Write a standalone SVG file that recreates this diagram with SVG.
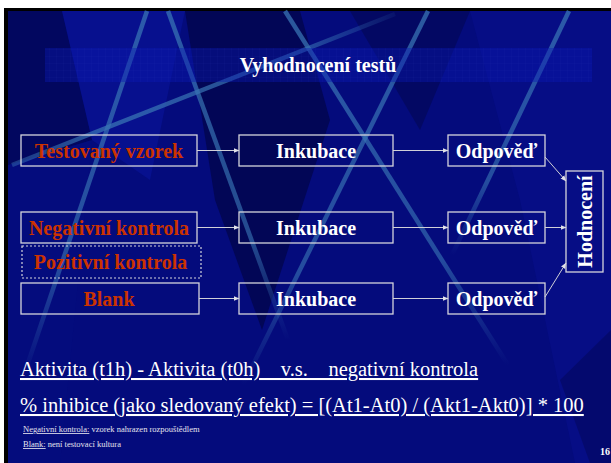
<svg xmlns="http://www.w3.org/2000/svg" width="611" height="463" viewBox="0 0 611 463">
  <defs>
    <style>
      .box { fill: none; stroke: #d4d4dc; stroke-width: 1.3; }
      .dash { fill: none; stroke: #d4d4dc; stroke-width: 1.2; stroke-dasharray: 2 2; }
      .red { font-family: "Liberation Serif", "Times New Roman", serif; font-weight: bold; font-size: 20px; fill: #cc3300; text-anchor: middle; }
      .wht { font-family: "Liberation Serif", "Times New Roman", serif; font-weight: bold; font-size: 20px; fill: #ffffff; text-anchor: middle; }
      .conn { stroke: #d0d0d8; stroke-width: 1; fill: none; marker-end: url(#head); }
      .streak { stroke-width: 4.5; fill: none; }
      .body { font-family: "Liberation Serif", "Times New Roman", serif; fill: #ffffff; }
      .note { font-family: "Liberation Serif", "Times New Roman", serif; font-size: 8.5px; fill: #e4e4ee; }
    </style>
    <marker id="head" markerUnits="userSpaceOnUse" markerWidth="6" markerHeight="6" refX="5.5" refY="3" orient="auto">
      <path d="M0,0.6 L6,3 L0,5.4 z" fill="#e0e0e8"/>
    </marker>
    <!-- light streak colour, fading toward the lower end -->
    <linearGradient id="fadeV" x1="0" y1="0" x2="0" y2="1">
      <stop offset="0" stop-color="#3874b4" stop-opacity="0.75"/>
      <stop offset="0.7" stop-color="#3874b4" stop-opacity="0.62"/>
      <stop offset="1" stop-color="#3874b4" stop-opacity="0"/>
    </linearGradient>
    <linearGradient id="fadeH" x1="0" y1="0" x2="1" y2="0">
      <stop offset="0" stop-color="#3874b4" stop-opacity="0.45"/>
      <stop offset="0.25" stop-color="#3874b4" stop-opacity="0.75"/>
      <stop offset="0.75" stop-color="#3874b4" stop-opacity="0.65"/>
      <stop offset="1" stop-color="#3874b4" stop-opacity="0.1"/>
    </linearGradient>
    <pattern id="grid" width="7" height="7" patternUnits="userSpaceOnUse">
      <path d="M0,0 H7 M0,0 V7" stroke="#3a4ac0" stroke-width="0.5" stroke-opacity="0.2" fill="none"/>
    </pattern>
  </defs>

  <!-- page and slide frame -->
  <rect x="0" y="0" width="611" height="463" fill="#ffffff"/>
  <rect x="4" y="8" width="607" height="455" fill="#000000"/>
  <rect x="8" y="11" width="603" height="452" fill="#040b7c"/>

  <!-- background facets -->
  <g id="facets">
    <polygon points="8,11 62,11 92,140 8,165" fill="#020552" opacity="0.7"/>
    <polygon points="62,11 185,11 150,180 92,140" fill="#0a16a0" opacity="0.5"/>
    <polygon points="185,11 300,11 330,120 262,330 215,200" fill="#01033e" opacity="0.6"/>
    <polygon points="350,11 470,11 420,130" fill="#02054a" opacity="0.5"/>
    <polygon points="470,11 611,11 611,463 575,463 520,200" fill="#0a14a0" opacity="0.25"/>
    <polygon points="560,380 611,330 611,463 590,463" fill="#02054a" opacity="0.4"/>
    <polygon points="8,165 92,140 60,463 8,463" fill="#06107f" opacity="0.4"/>
  </g>

  <!-- light streaks -->
  <g id="streaks">
    <line class="streak" x1="12" y1="165" x2="395" y2="14" stroke="url(#fadeH)"/>
    <line class="streak" x1="147" y1="11" x2="24" y2="375" stroke="url(#fadeV)"/>
    <line class="streak" x1="168" y1="11" x2="288" y2="340" stroke="url(#fadeV)"/>
    <line class="streak" x1="285" y1="11" x2="508" y2="365" stroke="url(#fadeV)"/>
    <line class="streak" x1="428" y1="11" x2="243" y2="385" stroke="url(#fadeV)"/>
    <line class="streak" x1="569" y1="11" x2="452" y2="255" stroke="url(#fadeV)"/>
  </g>

  <!-- title band -->
  <g id="title">
    <rect x="45" y="48" width="547" height="34" fill="#0a1ab4" opacity="0.4"/>
    <rect x="45" y="48" width="547" height="34" fill="url(#grid)"/>
    <text class="wht" x="318" y="72">Vyhodnocení testů</text>
  </g>

  <!-- connectors -->
  <g id="connectors">
    <line class="conn" x1="197" y1="150.5" x2="239" y2="150.5"/>
    <line class="conn" x1="197" y1="227.5" x2="239" y2="227.5"/>
    <line class="conn" x1="199" y1="298.5" x2="239" y2="298.5"/>
    <line class="conn" x1="393" y1="150.5" x2="448" y2="150.5"/>
    <line class="conn" x1="393" y1="227.5" x2="448" y2="227.5"/>
    <line class="conn" x1="393" y1="298.5" x2="448" y2="298.5"/>
    <line class="conn" x1="545" y1="157" x2="566" y2="181"/>
    <line class="conn" x1="545" y1="227.5" x2="566" y2="227.5"/>
    <line class="conn" x1="545" y1="297" x2="566" y2="263"/>
  </g>

  <!-- sample column -->
  <g id="testovany">
    <rect class="box" x="21" y="135" width="176" height="31"/>
    <text class="red" x="109" y="157.5">Testovaný vzorek</text>
  </g>
  <g id="negativni">
    <rect class="box" x="21" y="212" width="176" height="31"/>
    <text class="red" x="109" y="234.5">Negativní kontrola</text>
  </g>
  <g id="pozitivni">
    <rect class="dash" x="22" y="246" width="179" height="32"/>
    <text class="red" x="110.5" y="268.5">Pozitivní kontrola</text>
  </g>
  <g id="blank">
    <rect class="box" x="21" y="283" width="178" height="31"/>
    <text class="red" x="109" y="305.5">Blank</text>
  </g>

  <!-- incubation column -->
  <g id="inkubace1">
    <rect class="box" x="239" y="135" width="154" height="31"/>
    <text class="wht" x="316" y="157.5">Inkubace</text>
  </g>
  <g id="inkubace2">
    <rect class="box" x="239" y="212" width="154" height="31"/>
    <text class="wht" x="316" y="234.5">Inkubace</text>
  </g>
  <g id="inkubace3">
    <rect class="box" x="239" y="283" width="154" height="31"/>
    <text class="wht" x="316" y="305.5">Inkubace</text>
  </g>

  <!-- response column -->
  <g id="odpoved1">
    <rect class="box" x="448" y="135" width="97" height="31"/>
    <text class="wht" x="496.5" y="157.5">Odpověď</text>
  </g>
  <g id="odpoved2">
    <rect class="box" x="448" y="212" width="97" height="31"/>
    <text class="wht" x="496.5" y="234.5">Odpověď</text>
  </g>
  <g id="odpoved3">
    <rect class="box" x="448" y="283" width="97" height="31"/>
    <text class="wht" x="496.5" y="305.5">Odpověď</text>
  </g>

  <!-- evaluation -->
  <g id="hodnoceni">
    <rect class="box" x="566" y="171" width="37" height="101"/>
    <text class="wht" transform="translate(591.5,221.5) rotate(-90)" x="0" y="0">Hodnocení</text>
  </g>

  <!-- formulas and notes -->
  <g id="notes">
    <text class="body" x="20" y="376" font-size="20.5" text-decoration="underline" xml:space="preserve" style="white-space:pre">Aktivita (t1h) - Aktivita (t0h)    v.s.    negativní kontrola</text>
    <text class="body" x="20" y="412" font-size="20.5" text-decoration="underline">% inhibice (jako sledovaný efekt) = [(At1-At0) / (Akt1-Akt0)] * 100</text>
    <text class="note" x="23" y="432"><tspan text-decoration="underline">Negativní kontrola:</tspan> vzorek nahrazen rozpouštědlem</text>
    <text class="note" x="23" y="447"><tspan text-decoration="underline">Blank:</tspan> není testovací kultura</text>
    <text class="body" x="610" y="455" font-size="10" font-weight="bold" text-anchor="end">16</text>
  </g>
</svg>
